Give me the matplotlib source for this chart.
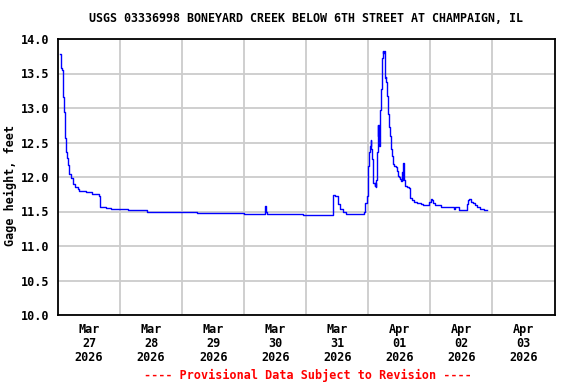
import matplotlib
matplotlib.use("Agg")
import matplotlib.pyplot as plt
import matplotlib.dates as mdates
import pandas as pd
import numpy as np

title = "USGS 03336998 BONEYARD CREEK BELOW 6TH STREET AT CHAMPAIGN, IL"
ylabel = "Gage height, feet"
footer = "---- Provisional Data Subject to Revision ----"
start = "2026-03-27 00:00"

# hours since Mar 27 00:00
hours = [0.6, 1.0, 1.15, 1.5, 1.8, 2.2, 2.6, 2.95, 3.35, 3.7, 4.35, 5.0, 5.8, 6.65, 7.6, 8.2,
         10.1, 10.8, 12.7, 13.0, 14.6, 15.9, 16.2, 16.9, 18.5, 20.4, 24.2, 26.9, 31.9, 34.6,
         44.6, 47.3, 51.2, 53.8, 70.4, 71.9, 79.6, 80.0, 80.3, 80.8, 93.5, 94.6, 106.2, 106.5,
         107.3, 108.2, 109.1, 110.1, 111.4, 116.5, 117.3,
         118.2, 118.8, 119.3, 119.7, 120.0, 120.3, 120.7, 120.9, 121.1, 121.4, 121.8, 122.0,
         122.4, 122.7, 123.0, 123.1, 123.3, 123.6, 123.8, 124.0, 124.2, 124.5, 124.7, 125.0,
         125.3, 125.5, 125.8, 126.0, 126.3, 126.5, 126.8, 127.0, 127.3, 127.6, 127.8, 128.1,
         128.3, 128.6, 129.0, 129.3, 129.7, 130.1, 130.7, 131.0, 131.4, 131.8, 132.2, 132.6,
         133.0, 133.2, 133.3, 133.6, 133.8, 134.1, 134.9, 135.8, 136.2, 137.0, 137.7, 139.0,
         140.3, 141.2, 142.8, 143.5, 144.1, 144.5, 145.0, 145.8, 147.3, 148.0, 149.2, 149.9,
         152.4, 153.1, 153.7, 155.0, 157.6, 158.0, 158.6, 159.1, 159.6, 160.4, 161.2, 162.0,
         163.3, 164.6, 165.9]
gage = [13.78, 13.76, 13.58, 13.55, 13.16, 12.94, 12.57, 12.36, 12.27, 12.17, 12.05, 11.98, 11.90, 11.86, 11.83, 11.80,
        11.80, 11.78, 11.78, 11.76, 11.75, 11.73, 11.56, 11.56, 11.55, 11.54, 11.53, 11.52, 11.52, 11.50,
        11.50, 11.49, 11.49, 11.48, 11.48, 11.47, 11.47, 11.58, 11.49, 11.47, 11.47, 11.45, 11.45, 11.74,
        11.73, 11.61, 11.54, 11.50, 11.47, 11.46, 11.46,
        11.50, 11.63, 11.73, 11.80, 12.16, 12.36, 12.45, 12.53, 12.41, 12.26, 12.07, 11.92,
        11.87, 11.92, 11.85, 11.95, 12.36, 12.75, 12.60, 12.75, 12.45, 12.70, 12.97, 13.28,
        13.72, 13.83, 13.79, 13.82, 13.57, 13.43, 13.45, 13.38, 13.18, 13.04, 12.92, 12.72,
        12.60, 12.41, 12.36, 12.31, 12.19, 12.16, 12.14, 12.09, 12.02, 12.00, 11.97, 11.94,
        12.00, 12.07, 11.95, 12.21, 11.95, 11.87, 11.85, 11.84, 11.70, 11.66, 11.64, 11.62,
        11.61, 11.60, 11.60, 11.64, 11.68, 11.67, 11.62, 11.60, 11.59, 11.57, 11.57, 11.56,
        11.56, 11.54, 11.56, 11.52, 11.52, 11.61, 11.66, 11.68, 11.64, 11.62, 11.59, 11.56,
        11.54, 11.52, 11.52]

day_labels = ["Mar\n27\n2026", "Mar\n28\n2026", "Mar\n29\n2026", "Mar\n30\n2026",
              "Mar\n31\n2026", "Apr\n01\n2026", "Apr\n02\n2026", "Apr\n03\n2026"]
yticks = [10.0, 10.5, 11.0, 11.5, 12.0, 12.5, 13.0, 13.5, 14.0]

t0 = pd.Timestamp(start)
times = t0 + pd.to_timedelta(hours, unit="h")
days = pd.date_range(t0, periods=len(day_labels) + 1, freq="D")
mids = days[:-1] + pd.Timedelta(hours=12)

font = "DejaVu Sans Mono"
fig = plt.figure(figsize=(5.76, 3.84), dpi=100)
ax = fig.add_axes([58/576, 1-315/384, (554.5-58)/576, (315-39)/384])

ax.step(times, gage, where="post", color="#0000ff", lw=1.0, zorder=3)

ax.set_xlim(days[0], days[-1])
ax.set_ylim(10.0, 14.0)
ax.set_yticks(yticks)
ax.set_yticklabels([f"{v:.1f}" for v in yticks], fontfamily=font, fontweight="bold", fontsize=8.5)
ax.set_xticks(days[1:-1])
ax.set_xticklabels([])
ax.set_xticks(mids, minor=True)
ax.set_xticklabels(day_labels, minor=True, fontfamily=font, fontweight="bold", fontsize=8.5,
                   linespacing=1.08)
ax.tick_params(axis="both", which="both", length=0)
ax.tick_params(axis="x", which="minor", pad=6)
ax.tick_params(axis="y", pad=6)

ax.grid(True, which="major", color="#cccccc", lw=1.3, zorder=0)
for s in ax.spines.values():
    s.set_color("black")
    s.set_linewidth(1.3)

ax.set_ylabel(ylabel, fontfamily=font, fontweight="bold", fontsize=8.5)
ax.yaxis.set_label_coords(-(58-17)/496.5, (315-185)/276)
fig.text(0.532, 1-19/384, title, ha="center", va="center", fontfamily=font,
         fontweight="bold", fontsize=8.4)
fig.text(0.535, 1-375/384, footer, ha="center", va="center", fontfamily=font,
         fontweight="bold", fontsize=8.5, color="red")

fig.savefig("out.png", dpi=100)
